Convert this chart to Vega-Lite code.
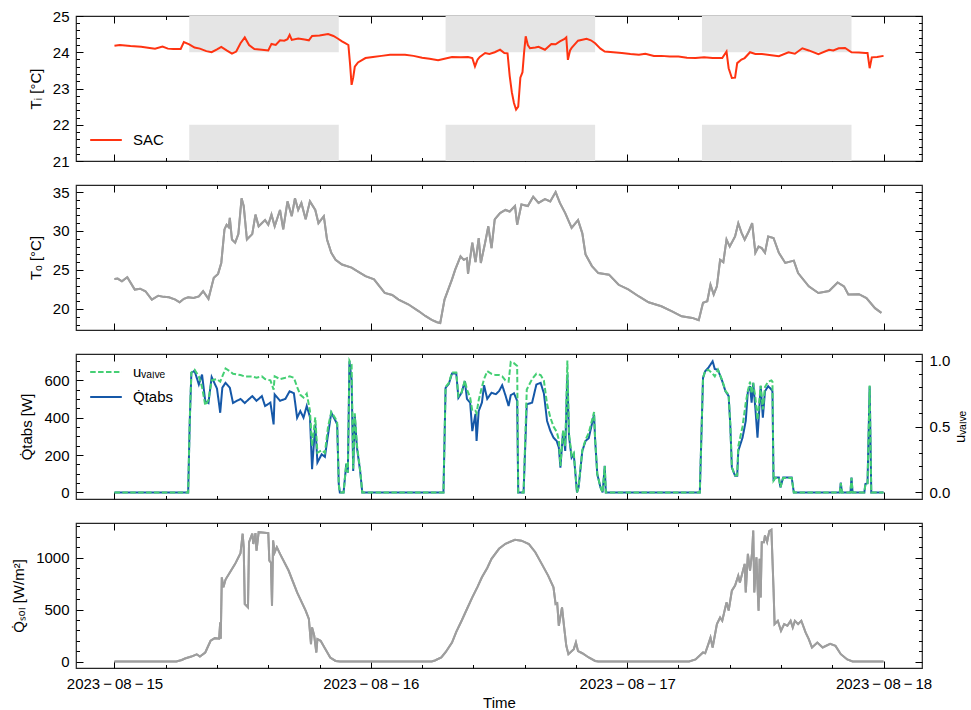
{
  "$schema": "https://vega.github.io/schema/vega-lite/v6.json",
  "padding": {"left": 11, "top": 8, "right": 0, "bottom": 2},
  "bounds": "flush",
  "spacing": 24,
  "config": {
    "font": "Liberation Sans",
    "view": {"stroke": "#262626", "strokeWidth": 1.2},
    "axis": {"grid": false, "domain": false, "tickColor": "#000", "tickWidth": 1, "labelFontSize": 15, "titleFontSize": 15, "titleFontWeight": "normal", "labelColor": "#000", "titleColor": "#000", "labelFlush": false, "labelOverlap": false, "minExtent": 0, "zindex": 1, "labelPadding": 14, "titlePadding": 9},
    "legend": {"symbolType": "stroke", "symbolSize": 1000, "symbolStrokeWidth": 2, "labelFontSize": 15, "labelColor": "#000", "labelOffset": 10, "rowPadding": -7, "padding": 0}
  },
  "resolve": {"scale": {"color": "independent", "strokeDash": "independent"}},
  "vconcat": [
    {
      "width": 846, "height": 145,
      "layer": [
        {
          "data": {"values": [
            {"start": "2023-08-15T07:00Z", "end": "2023-08-15T21:00Z", "lo": 24, "hi": 25},
            {"start": "2023-08-15T07:00Z", "end": "2023-08-15T21:00Z", "lo": 21, "hi": 22},
            {"start": "2023-08-16T07:00Z", "end": "2023-08-16T21:00Z", "lo": 24, "hi": 25},
            {"start": "2023-08-16T07:00Z", "end": "2023-08-16T21:00Z", "lo": 21, "hi": 22},
            {"start": "2023-08-17T07:00Z", "end": "2023-08-17T21:00Z", "lo": 24, "hi": 25},
            {"start": "2023-08-17T07:00Z", "end": "2023-08-17T21:00Z", "lo": 21, "hi": 22}
          ]},
          "mark": {"type": "rect", "color": "#e5e5e5"},
          "encoding": {
            "x": {"field": "start", "type": "temporal", "scale": {"type": "utc", "domain": [1692044640000, 1692329760000], "nice": false},
              "axis": {"orient": "bottom", "values": [1692057600000,1692074880000,1692092160000,1692109440000,1692126720000,1692144000000,1692161280000,1692178560000,1692195840000,1692213120000,1692230400000,1692247680000,1692264960000,1692282240000,1692299520000,1692316800000], "labels": false, "title": null, "tickSize": {"condition": {"test": "utchours(datum.value) == 0", "value": -7}, "value": -3.5}}},
            "x2": {"field": "end"},
            "y": {"field": "lo", "type": "quantitative", "scale": {"domain": [21, 25], "nice": false, "zero": false},
              "axis": {"orient": "left", "values": [21,21.2,21.4,21.6,21.8,22,22.2,22.4,22.6,22.8,23,23.2,23.4,23.6,23.8,24,24.2,24.4,24.6,24.8,25], "format": ".0f", "labelExpr": "datum.value % 1 == 0 ? datum.label : ''", "tickSize": {"condition": {"test": "datum.value % 1 == 0", "value": -7}, "value": -3.5}, "title": "Tᵢ [°C]"}},
            "y2": {"field": "hi"}
          }
        },
        {
          "data": {"values": [
            {"t":"2023-08-15T00:00Z","v":24.18},{"t":"2023-08-15T00:30Z","v":24.2},{"t":"2023-08-15T01:30Z","v":24.17},{"t":"2023-08-15T02:30Z","v":24.15},{"t":"2023-08-15T03:18Z","v":24.12},{"t":"2023-08-15T03:48Z","v":24.1},{"t":"2023-08-15T04:30Z","v":24.16},{"t":"2023-08-15T05:00Z","v":24.1},{"t":"2023-08-15T05:30Z","v":24.09},{"t":"2023-08-15T06:12Z","v":24.09},{"t":"2023-08-15T06:30Z","v":24.28},{"t":"2023-08-15T07:00Z","v":24.22},{"t":"2023-08-15T07:30Z","v":24.13},{"t":"2023-08-15T08:00Z","v":24.1},{"t":"2023-08-15T08:36Z","v":24.03},{"t":"2023-08-15T09:06Z","v":24.0},{"t":"2023-08-15T09:36Z","v":24.08},{"t":"2023-08-15T10:00Z","v":24.15},{"t":"2023-08-15T10:30Z","v":24.05},{"t":"2023-08-15T11:00Z","v":23.96},{"t":"2023-08-15T11:24Z","v":24.02},{"t":"2023-08-15T11:48Z","v":24.25},{"t":"2023-08-15T12:12Z","v":24.41},{"t":"2023-08-15T12:36Z","v":24.2},{"t":"2023-08-15T13:06Z","v":24.09},{"t":"2023-08-15T13:48Z","v":24.07},{"t":"2023-08-15T14:24Z","v":24.05},{"t":"2023-08-15T14:42Z","v":24.23},{"t":"2023-08-15T15:06Z","v":24.2},{"t":"2023-08-15T15:30Z","v":24.33},{"t":"2023-08-15T15:54Z","v":24.32},{"t":"2023-08-15T16:12Z","v":24.36},{"t":"2023-08-15T16:24Z","v":24.48},{"t":"2023-08-15T16:36Z","v":24.34},{"t":"2023-08-15T17:12Z","v":24.38},{"t":"2023-08-15T17:48Z","v":24.35},{"t":"2023-08-15T18:12Z","v":24.33},{"t":"2023-08-15T18:30Z","v":24.45},{"t":"2023-08-15T19:12Z","v":24.46},{"t":"2023-08-15T20:00Z","v":24.5},{"t":"2023-08-15T20:30Z","v":24.45},{"t":"2023-08-15T20:54Z","v":24.38},{"t":"2023-08-15T21:18Z","v":24.3},{"t":"2023-08-15T21:36Z","v":24.25},{"t":"2023-08-15T21:54Z","v":24.2},{"t":"2023-08-15T22:03Z","v":23.7},{"t":"2023-08-15T22:12Z","v":23.1},{"t":"2023-08-15T22:21Z","v":23.3},{"t":"2023-08-15T22:30Z","v":23.6},{"t":"2023-08-15T22:48Z","v":23.72},{"t":"2023-08-15T23:30Z","v":23.84},
            {"t":"2023-08-16T00:12Z","v":23.87},{"t":"2023-08-16T01:00Z","v":23.9},{"t":"2023-08-16T01:48Z","v":23.93},{"t":"2023-08-16T02:36Z","v":23.93},{"t":"2023-08-16T03:12Z","v":23.93},{"t":"2023-08-16T04:00Z","v":23.9},{"t":"2023-08-16T04:48Z","v":23.85},{"t":"2023-08-16T05:30Z","v":23.82},{"t":"2023-08-16T06:18Z","v":23.78},{"t":"2023-08-16T07:00Z","v":23.83},{"t":"2023-08-16T07:36Z","v":23.87},{"t":"2023-08-16T08:24Z","v":23.86},{"t":"2023-08-16T09:06Z","v":23.87},{"t":"2023-08-16T09:30Z","v":23.84},{"t":"2023-08-16T09:45Z","v":23.61},{"t":"2023-08-16T10:00Z","v":23.8},{"t":"2023-08-16T10:12Z","v":23.87},{"t":"2023-08-16T10:42Z","v":23.98},{"t":"2023-08-16T11:06Z","v":23.95},{"t":"2023-08-16T11:36Z","v":24.0},{"t":"2023-08-16T12:06Z","v":24.07},{"t":"2023-08-16T12:30Z","v":23.98},{"t":"2023-08-16T12:48Z","v":23.97},{"t":"2023-08-16T13:00Z","v":23.35},{"t":"2023-08-16T13:12Z","v":22.9},{"t":"2023-08-16T13:24Z","v":22.6},{"t":"2023-08-16T13:36Z","v":22.42},{"t":"2023-08-16T13:48Z","v":22.5},{"t":"2023-08-16T14:00Z","v":23.3},{"t":"2023-08-16T14:12Z","v":23.45},{"t":"2023-08-16T14:21Z","v":24.0},{"t":"2023-08-16T14:30Z","v":24.44},{"t":"2023-08-16T14:42Z","v":24.2},{"t":"2023-08-16T14:54Z","v":24.11},{"t":"2023-08-16T15:24Z","v":24.13},{"t":"2023-08-16T15:42Z","v":24.15},{"t":"2023-08-16T16:18Z","v":24.07},{"t":"2023-08-16T16:54Z","v":24.23},{"t":"2023-08-16T17:18Z","v":24.22},{"t":"2023-08-16T17:42Z","v":24.3},{"t":"2023-08-16T18:06Z","v":24.36},{"t":"2023-08-16T18:18Z","v":24.41},{"t":"2023-08-16T18:27Z","v":23.79},{"t":"2023-08-16T18:39Z","v":24.05},{"t":"2023-08-16T18:48Z","v":24.12},{"t":"2023-08-16T19:24Z","v":24.32},{"t":"2023-08-16T20:12Z","v":24.37},{"t":"2023-08-16T20:36Z","v":24.33},{"t":"2023-08-16T21:00Z","v":24.25},{"t":"2023-08-16T21:30Z","v":24.1},{"t":"2023-08-16T21:54Z","v":24.02},{"t":"2023-08-16T22:42Z","v":24.0},{"t":"2023-08-16T23:30Z","v":23.98},
            {"t":"2023-08-17T00:18Z","v":23.95},{"t":"2023-08-17T01:06Z","v":23.93},{"t":"2023-08-17T01:42Z","v":23.96},{"t":"2023-08-17T02:30Z","v":23.9},{"t":"2023-08-17T03:12Z","v":23.9},{"t":"2023-08-17T04:00Z","v":23.88},{"t":"2023-08-17T04:48Z","v":23.88},{"t":"2023-08-17T05:36Z","v":23.85},{"t":"2023-08-17T06:24Z","v":23.84},{"t":"2023-08-17T07:12Z","v":23.86},{"t":"2023-08-17T08:00Z","v":23.84},{"t":"2023-08-17T08:54Z","v":23.84},{"t":"2023-08-17T09:18Z","v":24.02},{"t":"2023-08-17T09:30Z","v":23.56},{"t":"2023-08-17T09:48Z","v":23.29},{"t":"2023-08-17T10:06Z","v":23.3},{"t":"2023-08-17T10:18Z","v":23.7},{"t":"2023-08-17T10:42Z","v":23.8},{"t":"2023-08-17T11:00Z","v":23.84},{"t":"2023-08-17T11:30Z","v":24.0},{"t":"2023-08-17T12:00Z","v":23.95},{"t":"2023-08-17T12:36Z","v":23.95},{"t":"2023-08-17T13:30Z","v":23.92},{"t":"2023-08-17T14:12Z","v":23.89},{"t":"2023-08-17T15:06Z","v":24.0},{"t":"2023-08-17T15:42Z","v":23.96},{"t":"2023-08-17T16:24Z","v":24.11},{"t":"2023-08-17T17:00Z","v":24.05},{"t":"2023-08-17T17:54Z","v":23.95},{"t":"2023-08-17T18:54Z","v":24.07},{"t":"2023-08-17T19:18Z","v":24.05},{"t":"2023-08-17T19:48Z","v":24.11},{"t":"2023-08-17T20:24Z","v":24.12},{"t":"2023-08-17T21:00Z","v":24.0},{"t":"2023-08-17T21:42Z","v":23.99},{"t":"2023-08-17T22:18Z","v":23.98},{"t":"2023-08-17T22:30Z","v":23.98},{"t":"2023-08-17T22:42Z","v":23.56},{"t":"2023-08-17T22:54Z","v":23.86},{"t":"2023-08-17T23:24Z","v":23.87},{"t":"2023-08-18T00:00Z","v":23.9}
          ]},
          "mark": {"type": "line", "strokeWidth": 2},
          "encoding": {
            "x": {"field": "t", "type": "temporal", "scale": {"type": "utc", "domain": [1692044640000, 1692329760000], "nice": false},
              "axis": {"orient": "top", "values": [1692057600000,1692074880000,1692092160000,1692109440000,1692126720000,1692144000000,1692161280000,1692178560000,1692195840000,1692213120000,1692230400000,1692247680000,1692264960000,1692282240000,1692299520000,1692316800000], "labels": false, "title": null, "tickSize": {"condition": {"test": "utchours(datum.value) == 0", "value": -7}, "value": -3.5}}},
            "y": {"field": "v", "type": "quantitative", "scale": {"domain": [21, 25], "nice": false, "zero": false},
              "axis": {"orient": "right", "values": [21,21.2,21.4,21.6,21.8,22,22.2,22.4,22.6,22.8,23,23.2,23.4,23.6,23.8,24,24.2,24.4,24.6,24.8,25], "labels": false, "title": null, "tickSize": {"condition": {"test": "datum.value % 1 == 0", "value": -7}, "value": -3.5}}},
            "color": {"datum": "SAC", "type": "nominal", "scale": {"domain": ["SAC"], "range": ["#ff3311"]}, "legend": {"title": null, "orient": "none", "legendX": 13, "legendY": 107}}
          }
        }
      ],
      "resolve": {"axis": {"x": "independent", "y": "independent"}}
    },
    {
      "width": 846, "height": 145,
      "data": {"values": [
        {"t":"2023-08-15T00:00Z","v":23.85},{"t":"2023-08-15T00:18Z","v":23.9},{"t":"2023-08-15T00:42Z","v":23.55},{"t":"2023-08-15T01:12Z","v":24.06},{"t":"2023-08-15T01:54Z","v":22.49},{"t":"2023-08-15T02:24Z","v":22.6},{"t":"2023-08-15T02:54Z","v":22.27},{"t":"2023-08-15T03:30Z","v":21.2},{"t":"2023-08-15T04:06Z","v":21.7},{"t":"2023-08-15T04:36Z","v":21.55},{"t":"2023-08-15T05:06Z","v":21.5},{"t":"2023-08-15T05:42Z","v":21.2},{"t":"2023-08-15T06:06Z","v":20.86},{"t":"2023-08-15T06:30Z","v":21.3},{"t":"2023-08-15T06:54Z","v":21.5},{"t":"2023-08-15T07:24Z","v":21.4},{"t":"2023-08-15T07:54Z","v":21.6},{"t":"2023-08-15T08:18Z","v":22.27},{"t":"2023-08-15T08:48Z","v":21.3},{"t":"2023-08-15T09:18Z","v":24.0},{"t":"2023-08-15T09:42Z","v":24.5},{"t":"2023-08-15T10:00Z","v":25.9},{"t":"2023-08-15T10:18Z","v":30.2},{"t":"2023-08-15T10:30Z","v":30.8},{"t":"2023-08-15T10:42Z","v":30.5},{"t":"2023-08-15T10:48Z","v":31.7},{"t":"2023-08-15T11:00Z","v":28.9},{"t":"2023-08-15T11:18Z","v":28.5},{"t":"2023-08-15T11:36Z","v":29.6},{"t":"2023-08-15T11:54Z","v":34.2},{"t":"2023-08-15T12:06Z","v":33.2},{"t":"2023-08-15T12:24Z","v":28.9},{"t":"2023-08-15T12:54Z","v":29.6},{"t":"2023-08-15T13:12Z","v":32.1},{"t":"2023-08-15T13:30Z","v":30.6},{"t":"2023-08-15T14:06Z","v":31.4},{"t":"2023-08-15T14:24Z","v":30.8},{"t":"2023-08-15T14:42Z","v":32.1},{"t":"2023-08-15T15:00Z","v":30.6},{"t":"2023-08-15T15:30Z","v":32.7},{"t":"2023-08-15T15:48Z","v":30.2},{"t":"2023-08-15T16:12Z","v":33.8},{"t":"2023-08-15T16:36Z","v":31.9},{"t":"2023-08-15T16:54Z","v":34.2},{"t":"2023-08-15T17:12Z","v":32.7},{"t":"2023-08-15T17:30Z","v":33.6},{"t":"2023-08-15T17:54Z","v":31.5},{"t":"2023-08-15T18:18Z","v":33.8},{"t":"2023-08-15T18:48Z","v":32.7},{"t":"2023-08-15T19:06Z","v":31.0},{"t":"2023-08-15T19:36Z","v":31.9},{"t":"2023-08-15T19:54Z","v":28.9},{"t":"2023-08-15T20:18Z","v":27.2},{"t":"2023-08-15T20:42Z","v":26.3},{"t":"2023-08-15T21:18Z","v":25.7},{"t":"2023-08-15T22:12Z","v":25.3},{"t":"2023-08-15T22:48Z","v":24.8},{"t":"2023-08-15T23:30Z","v":24.2},
        {"t":"2023-08-16T00:18Z","v":23.8},{"t":"2023-08-16T01:18Z","v":22.05},{"t":"2023-08-16T02:00Z","v":21.8},{"t":"2023-08-16T02:36Z","v":21.2},{"t":"2023-08-16T03:30Z","v":20.6},{"t":"2023-08-16T04:30Z","v":19.7},{"t":"2023-08-16T05:06Z","v":19.1},{"t":"2023-08-16T05:42Z","v":18.6},{"t":"2023-08-16T06:12Z","v":18.3},{"t":"2023-08-16T06:30Z","v":18.2},{"t":"2023-08-16T06:54Z","v":21.2},{"t":"2023-08-16T07:36Z","v":23.8},{"t":"2023-08-16T07:54Z","v":25.05},{"t":"2023-08-16T08:24Z","v":26.75},{"t":"2023-08-16T08:42Z","v":26.3},{"t":"2023-08-16T09:00Z","v":26.5},{"t":"2023-08-16T09:06Z","v":24.5},{"t":"2023-08-16T09:30Z","v":28.5},{"t":"2023-08-16T09:48Z","v":26.0},{"t":"2023-08-16T10:06Z","v":29.1},{"t":"2023-08-16T10:18Z","v":25.9},{"t":"2023-08-16T10:42Z","v":28.5},{"t":"2023-08-16T11:00Z","v":30.6},{"t":"2023-08-16T11:18Z","v":27.8},{"t":"2023-08-16T11:36Z","v":31.5},{"t":"2023-08-16T12:06Z","v":32.3},{"t":"2023-08-16T12:36Z","v":32.7},{"t":"2023-08-16T13:00Z","v":32.5},{"t":"2023-08-16T13:30Z","v":33.2},{"t":"2023-08-16T13:42Z","v":30.8},{"t":"2023-08-16T14:06Z","v":33.4},{"t":"2023-08-16T14:42Z","v":33.2},{"t":"2023-08-16T15:12Z","v":34.4},{"t":"2023-08-16T15:42Z","v":33.6},{"t":"2023-08-16T16:18Z","v":34.1},{"t":"2023-08-16T16:48Z","v":33.8},{"t":"2023-08-16T17:18Z","v":35.0},{"t":"2023-08-16T17:42Z","v":33.6},{"t":"2023-08-16T18:12Z","v":32.3},{"t":"2023-08-16T18:48Z","v":30.4},{"t":"2023-08-16T19:24Z","v":31.4},{"t":"2023-08-16T19:48Z","v":29.7},{"t":"2023-08-16T20:06Z","v":27.0},{"t":"2023-08-16T20:42Z","v":25.5},{"t":"2023-08-16T21:18Z","v":24.6},{"t":"2023-08-16T22:18Z","v":24.4},{"t":"2023-08-16T23:12Z","v":23.1},
        {"t":"2023-08-17T00:06Z","v":22.5},{"t":"2023-08-17T01:06Z","v":21.6},{"t":"2023-08-17T02:00Z","v":20.86},{"t":"2023-08-17T03:12Z","v":20.35},{"t":"2023-08-17T04:12Z","v":19.7},{"t":"2023-08-17T05:06Z","v":19.06},{"t":"2023-08-17T06:06Z","v":18.85},{"t":"2023-08-17T06:42Z","v":18.55},{"t":"2023-08-17T07:06Z","v":20.8},{"t":"2023-08-17T07:30Z","v":21.0},{"t":"2023-08-17T07:48Z","v":23.1},{"t":"2023-08-17T08:06Z","v":21.85},{"t":"2023-08-17T08:24Z","v":22.9},{"t":"2023-08-17T08:42Z","v":26.3},{"t":"2023-08-17T09:00Z","v":26.0},{"t":"2023-08-17T09:18Z","v":28.9},{"t":"2023-08-17T09:36Z","v":28.0},{"t":"2023-08-17T10:06Z","v":29.3},{"t":"2023-08-17T10:24Z","v":31.0},{"t":"2023-08-17T10:42Z","v":29.8},{"t":"2023-08-17T11:00Z","v":28.9},{"t":"2023-08-17T11:24Z","v":30.0},{"t":"2023-08-17T11:42Z","v":31.0},{"t":"2023-08-17T12:00Z","v":27.2},{"t":"2023-08-17T12:18Z","v":28.0},{"t":"2023-08-17T12:36Z","v":27.8},{"t":"2023-08-17T12:54Z","v":27.2},{"t":"2023-08-17T13:12Z","v":29.3},{"t":"2023-08-17T13:42Z","v":29.1},{"t":"2023-08-17T14:12Z","v":27.2},{"t":"2023-08-17T14:48Z","v":25.9},{"t":"2023-08-17T15:36Z","v":26.2},{"t":"2023-08-17T16:00Z","v":24.6},{"t":"2023-08-17T17:00Z","v":22.9},{"t":"2023-08-17T17:54Z","v":22.05},{"t":"2023-08-17T18:54Z","v":22.3},{"t":"2023-08-17T19:42Z","v":23.4},{"t":"2023-08-17T20:18Z","v":22.9},{"t":"2023-08-17T20:42Z","v":21.85},{"t":"2023-08-17T21:42Z","v":21.9},{"t":"2023-08-17T22:24Z","v":21.4},{"t":"2023-08-17T23:12Z","v":20.1},{"t":"2023-08-17T23:48Z","v":19.5}
      ]},
      "layer": [
        {
          "mark": {"type": "line", "strokeWidth": 2, "color": "#9e9e9e"},
          "encoding": {
            "x": {"field": "t", "type": "temporal", "scale": {"type": "utc", "domain": [1692044640000, 1692329760000], "nice": false},
              "axis": {"orient": "bottom", "values": [1692057600000,1692074880000,1692092160000,1692109440000,1692126720000,1692144000000,1692161280000,1692178560000,1692195840000,1692213120000,1692230400000,1692247680000,1692264960000,1692282240000,1692299520000,1692316800000], "labels": false, "title": null, "tickSize": {"condition": {"test": "utchours(datum.value) == 0", "value": -7}, "value": -3.5}}},
            "y": {"field": "v", "type": "quantitative", "scale": {"domain": [17.3, 35.9], "nice": false, "zero": false},
              "axis": {"orient": "left", "values": [18,19,20,21,22,23,24,25,26,27,28,29,30,31,32,33,34,35], "labelExpr": "datum.value % 5 == 0 ? datum.label : ''", "tickSize": {"condition": {"test": "datum.value % 5 == 0", "value": -7}, "value": -3.5}, "title": "Tₒ [°C]"}}
          }
        },
        {
          "mark": {"type": "line", "strokeWidth": 2, "color": "#9e9e9e"},
          "encoding": {
            "x": {"field": "t", "type": "temporal", "scale": {"type": "utc", "domain": [1692044640000, 1692329760000], "nice": false},
              "axis": {"orient": "top", "values": [1692057600000,1692074880000,1692092160000,1692109440000,1692126720000,1692144000000,1692161280000,1692178560000,1692195840000,1692213120000,1692230400000,1692247680000,1692264960000,1692282240000,1692299520000,1692316800000], "labels": false, "title": null, "tickSize": {"condition": {"test": "utchours(datum.value) == 0", "value": -7}, "value": -3.5}}},
            "y": {"field": "v", "type": "quantitative", "scale": {"domain": [17.3, 35.9], "nice": false, "zero": false},
              "axis": {"orient": "right", "values": [18,19,20,21,22,23,24,25,26,27,28,29,30,31,32,33,34,35], "labels": false, "title": null, "tickSize": {"condition": {"test": "datum.value % 5 == 0", "value": -7}, "value": -3.5}}}
          }
        }
      ],
      "resolve": {"axis": {"x": "independent", "y": "independent"}}
    },
    {
      "width": 846, "height": 145,
      "data": {"values": [
        {"t":"2023-08-15T00:00Z","Q":0,"u":0},{"t":"2023-08-15T06:54Z","Q":0,"u":0},{"t":"2023-08-15T07:03Z","Q":380,"u":0.55},{"t":"2023-08-15T07:12Z","Q":639,"u":0.91},{"t":"2023-08-15T07:30Z","Q":650,"u":0.93},{"t":"2023-08-15T07:54Z","Q":577,"u":0.88},{"t":"2023-08-15T08:12Z","Q":630,"u":0.8},{"t":"2023-08-15T08:30Z","Q":488,"u":0.66},{"t":"2023-08-15T08:48Z","Q":478,"u":0.7},{"t":"2023-08-15T09:06Z","Q":617,"u":0.85},{"t":"2023-08-15T09:36Z","Q":555,"u":0.86},{"t":"2023-08-15T09:54Z","Q":426,"u":0.84},{"t":"2023-08-15T10:06Z","Q":560,"u":0.88},{"t":"2023-08-15T10:24Z","Q":586,"u":0.94},{"t":"2023-08-15T10:48Z","Q":560,"u":0.92},{"t":"2023-08-15T11:06Z","Q":478,"u":0.9},{"t":"2023-08-15T11:48Z","Q":500,"u":0.89},{"t":"2023-08-15T12:12Z","Q":478,"u":0.88},{"t":"2023-08-15T12:54Z","Q":515,"u":0.88},{"t":"2023-08-15T13:18Z","Q":490,"u":0.87},{"t":"2023-08-15T13:48Z","Q":515,"u":0.88},{"t":"2023-08-15T14:06Z","Q":462,"u":0.86},{"t":"2023-08-15T14:36Z","Q":480,"u":0.85},{"t":"2023-08-15T14:54Z","Q":364,"u":0.78},{"t":"2023-08-15T15:00Z","Q":524,"u":0.88},{"t":"2023-08-15T15:30Z","Q":490,"u":0.86},{"t":"2023-08-15T16:00Z","Q":500,"u":0.87},{"t":"2023-08-15T16:24Z","Q":541,"u":0.88},{"t":"2023-08-15T16:48Z","Q":530,"u":0.87},{"t":"2023-08-15T17:06Z","Q":399,"u":0.8},{"t":"2023-08-15T17:24Z","Q":435,"u":0.74},{"t":"2023-08-15T17:42Z","Q":400,"u":0.72},{"t":"2023-08-15T18:00Z","Q":462,"u":0.75},{"t":"2023-08-15T18:18Z","Q":404,"u":0.62},{"t":"2023-08-15T18:30Z","Q":124,"u":0.35},{"t":"2023-08-15T18:48Z","Q":364,"u":0.57},{"t":"2023-08-15T19:00Z","Q":160,"u":0.3},{"t":"2023-08-15T19:24Z","Q":204,"u":0.32},{"t":"2023-08-15T19:42Z","Q":190,"u":0.3},{"t":"2023-08-15T20:00Z","Q":311,"u":0.5},{"t":"2023-08-15T20:18Z","Q":426,"u":0.61},{"t":"2023-08-15T20:42Z","Q":382,"u":0.56},{"t":"2023-08-15T20:51Z","Q":364,"u":0.53},{"t":"2023-08-15T21:00Z","Q":45,"u":0.06},{"t":"2023-08-15T21:06Z","Q":0,"u":0},{"t":"2023-08-15T21:27Z","Q":0,"u":0},{"t":"2023-08-15T21:42Z","Q":151,"u":0.22},{"t":"2023-08-15T21:51Z","Q":106,"u":0.15},{"t":"2023-08-15T22:00Z","Q":701,"u":1.0},{"t":"2023-08-15T22:12Z","Q":604,"u":0.97},{"t":"2023-08-15T22:21Z","Q":115,"u":0.18},{"t":"2023-08-15T22:30Z","Q":408,"u":0.6},{"t":"2023-08-15T22:42Z","Q":240,"u":0.36},{"t":"2023-08-15T23:00Z","Q":115,"u":0.17},{"t":"2023-08-15T23:12Z","Q":0,"u":0},
        {"t":"2023-08-16T06:48Z","Q":0,"u":0},{"t":"2023-08-16T07:00Z","Q":559,"u":0.8},{"t":"2023-08-16T07:18Z","Q":580,"u":0.83},{"t":"2023-08-16T07:36Z","Q":636,"u":0.91},{"t":"2023-08-16T08:00Z","Q":636,"u":0.91},{"t":"2023-08-16T08:12Z","Q":506,"u":0.73},{"t":"2023-08-16T08:30Z","Q":533,"u":0.76},{"t":"2023-08-16T08:48Z","Q":595,"u":0.85},{"t":"2023-08-16T09:00Z","Q":500,"u":0.78},{"t":"2023-08-16T09:18Z","Q":480,"u":0.72},{"t":"2023-08-16T09:30Z","Q":328,"u":0.62},{"t":"2023-08-16T09:48Z","Q":420,"u":0.62},{"t":"2023-08-16T09:54Z","Q":275,"u":0.6},{"t":"2023-08-16T10:06Z","Q":435,"u":0.7},{"t":"2023-08-16T10:24Z","Q":480,"u":0.8},{"t":"2023-08-16T10:36Z","Q":573,"u":0.86},{"t":"2023-08-16T10:54Z","Q":500,"u":0.92},{"t":"2023-08-16T11:18Z","Q":533,"u":0.9},{"t":"2023-08-16T11:42Z","Q":525,"u":0.89},{"t":"2023-08-16T12:00Z","Q":541,"u":0.89},{"t":"2023-08-16T12:18Z","Q":573,"u":0.88},{"t":"2023-08-16T12:36Z","Q":520,"u":0.85},{"t":"2023-08-16T12:54Z","Q":462,"u":0.84},{"t":"2023-08-16T13:06Z","Q":520,"u":0.99},{"t":"2023-08-16T13:24Z","Q":530,"u":0.98},{"t":"2023-08-16T13:42Z","Q":490,"u":0.96},{"t":"2023-08-16T13:48Z","Q":0,"u":0},{"t":"2023-08-16T14:18Z","Q":0,"u":0},{"t":"2023-08-16T14:36Z","Q":471,"u":0.78},{"t":"2023-08-16T15:06Z","Q":480,"u":0.86},{"t":"2023-08-16T15:30Z","Q":577,"u":0.9},{"t":"2023-08-16T15:54Z","Q":586,"u":0.89},{"t":"2023-08-16T16:12Z","Q":530,"u":0.85},{"t":"2023-08-16T16:30Z","Q":382,"u":0.67},{"t":"2023-08-16T16:48Z","Q":330,"u":0.57},{"t":"2023-08-16T17:06Z","Q":293,"u":0.5},{"t":"2023-08-16T17:24Z","Q":275,"u":0.46},{"t":"2023-08-16T17:36Z","Q":240,"u":0.4},{"t":"2023-08-16T17:45Z","Q":133,"u":0.2},{"t":"2023-08-16T18:00Z","Q":328,"u":0.47},{"t":"2023-08-16T18:12Z","Q":222,"u":0.35},{"t":"2023-08-16T18:24Z","Q":630,"u":1.0},{"t":"2023-08-16T18:33Z","Q":300,"u":0.45},{"t":"2023-08-16T18:48Z","Q":186,"u":0.28},{"t":"2023-08-16T19:00Z","Q":204,"u":0.3},{"t":"2023-08-16T19:18Z","Q":0,"u":0},{"t":"2023-08-16T19:27Z","Q":27,"u":0.04},{"t":"2023-08-16T19:48Z","Q":222,"u":0.32},{"t":"2023-08-16T20:06Z","Q":275,"u":0.4},{"t":"2023-08-16T20:24Z","Q":290,"u":0.45},{"t":"2023-08-16T20:54Z","Q":417,"u":0.61},{"t":"2023-08-16T21:00Z","Q":280,"u":0.4},{"t":"2023-08-16T21:12Z","Q":98,"u":0.14},{"t":"2023-08-16T21:30Z","Q":27,"u":0.04},{"t":"2023-08-16T21:42Z","Q":0,"u":0},{"t":"2023-08-16T21:54Z","Q":142,"u":0.2},{"t":"2023-08-16T22:00Z","Q":0,"u":0},
        {"t":"2023-08-17T06:48Z","Q":0,"u":0},{"t":"2023-08-17T07:06Z","Q":612,"u":0.87},{"t":"2023-08-17T07:18Z","Q":648,"u":0.92},{"t":"2023-08-17T07:36Z","Q":666,"u":0.93},{"t":"2023-08-17T08:00Z","Q":701,"u":0.9},{"t":"2023-08-17T08:12Z","Q":660,"u":0.88},{"t":"2023-08-17T08:30Z","Q":655,"u":0.93},{"t":"2023-08-17T08:54Z","Q":595,"u":0.85},{"t":"2023-08-17T09:12Z","Q":541,"u":0.77},{"t":"2023-08-17T09:30Z","Q":515,"u":0.74},{"t":"2023-08-17T09:39Z","Q":364,"u":0.52},{"t":"2023-08-17T09:48Z","Q":133,"u":0.19},{"t":"2023-08-17T10:06Z","Q":89,"u":0.13},{"t":"2023-08-17T10:18Z","Q":89,"u":0.13},{"t":"2023-08-17T10:24Z","Q":222,"u":0.35},{"t":"2023-08-17T10:48Z","Q":293,"u":0.5},{"t":"2023-08-17T11:06Z","Q":382,"u":0.68},{"t":"2023-08-17T11:18Z","Q":541,"u":0.77},{"t":"2023-08-17T11:30Z","Q":568,"u":0.84},{"t":"2023-08-17T11:39Z","Q":480,"u":0.75},{"t":"2023-08-17T11:48Z","Q":586,"u":0.83},{"t":"2023-08-17T12:00Z","Q":450,"u":0.72},{"t":"2023-08-17T12:12Z","Q":293,"u":0.55},{"t":"2023-08-17T12:30Z","Q":568,"u":0.81},{"t":"2023-08-17T12:42Z","Q":400,"u":0.63},{"t":"2023-08-17T12:54Z","Q":541,"u":0.8},{"t":"2023-08-17T13:12Z","Q":568,"u":0.84},{"t":"2023-08-17T13:30Z","Q":550,"u":0.85},{"t":"2023-08-17T13:36Z","Q":540,"u":0.84},{"t":"2023-08-17T13:42Z","Q":62,"u":0.09},{"t":"2023-08-17T13:51Z","Q":80,"u":0.11},{"t":"2023-08-17T14:12Z","Q":80,"u":0.11},{"t":"2023-08-17T14:21Z","Q":27,"u":0.04},{"t":"2023-08-17T14:36Z","Q":80,"u":0.11},{"t":"2023-08-17T15:24Z","Q":80,"u":0.11},{"t":"2023-08-17T15:36Z","Q":0,"u":0},{"t":"2023-08-17T19:54Z","Q":0,"u":0},{"t":"2023-08-17T20:00Z","Q":53,"u":0.07},{"t":"2023-08-17T20:06Z","Q":0,"u":0},{"t":"2023-08-17T20:54Z","Q":0,"u":0},{"t":"2023-08-17T21:00Z","Q":80,"u":0.11},{"t":"2023-08-17T21:06Z","Q":0,"u":0},{"t":"2023-08-17T22:12Z","Q":0,"u":0},{"t":"2023-08-17T22:18Z","Q":45,"u":0.06},{"t":"2023-08-17T22:30Z","Q":50,"u":0.06},{"t":"2023-08-17T22:42Z","Q":568,"u":0.81},{"t":"2023-08-17T22:51Z","Q":0,"u":0},{"t":"2023-08-18T00:00Z","Q":0,"u":0}
      ]},
      "layer": [
        {
          "transform": [{"fold": ["Q"], "as": ["series", "v"]}],
          "mark": {"type": "line", "strokeWidth": 2},
          "encoding": {
            "x": {"field": "t", "type": "temporal", "scale": {"type": "utc", "domain": [1692044640000, 1692329760000], "nice": false},
              "axis": {"orient": "bottom", "values": [1692057600000,1692074880000,1692092160000,1692109440000,1692126720000,1692144000000,1692161280000,1692178560000,1692195840000,1692213120000,1692230400000,1692247680000,1692264960000,1692282240000,1692299520000,1692316800000], "labels": false, "title": null, "tickSize": {"condition": {"test": "utchours(datum.value) == 0", "value": -7}, "value": -3.5}}},
            "y": {"field": "v", "type": "quantitative", "scale": {"domain": [-35, 740], "nice": false, "zero": false},
              "axis": {"orient": "left", "values": [0,50,100,150,200,250,300,350,400,450,500,550,600,650,700], "labelExpr": "datum.value % 200 == 0 ? datum.label : ''", "tickSize": {"condition": {"test": "datum.value % 200 == 0", "value": -7}, "value": -3.5}, "title": "Q̇tabs [W]"}},
            "color": {"field": "series", "type": "nominal", "scale": {"domain": ["u", "Q"], "range": ["#45cf74", "#1558a8"]}, "legend": {"title": null, "orient": "none", "legendX": 13, "legendY": 1, "labelExpr": "datum.label == 'u' ? 'uᵥₐₗᵥₑ' : 'Q̇tabs'"}},
            "strokeDash": {"field": "series", "type": "nominal", "scale": {"domain": ["u", "Q"], "range": [[5.5, 2.4], [1, 0]]}, "legend": {"title": null, "orient": "none", "legendX": 13, "legendY": 1, "labelExpr": "datum.label == 'u' ? 'uᵥₐₗᵥₑ' : 'Q̇tabs'"}}
          }
        },
        {
          "transform": [{"fold": ["u"], "as": ["series", "v"]}],
          "mark": {"type": "line", "strokeWidth": 2},
          "encoding": {
            "x": {"field": "t", "type": "temporal", "scale": {"type": "utc", "domain": [1692044640000, 1692329760000], "nice": false},
              "axis": {"orient": "top", "values": [1692057600000,1692074880000,1692092160000,1692109440000,1692126720000,1692144000000,1692161280000,1692178560000,1692195840000,1692213120000,1692230400000,1692247680000,1692264960000,1692282240000,1692299520000,1692316800000], "labels": false, "title": null, "tickSize": {"condition": {"test": "utchours(datum.value) == 0", "value": -7}, "value": -3.5}}},
            "y": {"field": "v", "type": "quantitative", "scale": {"domain": [-0.05, 1.05], "nice": false, "zero": false},
              "axis": {"orient": "right", "values": [0,0.1,0.2,0.3,0.4,0.5,0.6,0.7,0.8,0.9,1], "format": ".1f", "labelExpr": "(datum.value == 0 || datum.value == 0.5 || datum.value == 1) ? datum.label : ''", "tickSize": {"condition": {"test": "datum.value == 0 || datum.value == 0.5 || datum.value == 1", "value": -7}, "value": -3.5}, "title": "uᵥₐₗᵥₑ", "titleAngle": 270, "titleBaseline": "top", "titlePadding": 3}},
            "color": {"field": "series", "type": "nominal", "scale": {"domain": ["u", "Q"], "range": ["#45cf74", "#1558a8"]}, "legend": {"title": null, "orient": "none", "legendX": 13, "legendY": 1, "labelExpr": "datum.label == 'u' ? 'uᵥₐₗᵥₑ' : 'Q̇tabs'"}},
            "strokeDash": {"field": "series", "type": "nominal", "scale": {"domain": ["u", "Q"], "range": [[5.5, 2.4], [1, 0]]}, "legend": {"title": null, "orient": "none", "legendX": 13, "legendY": 1, "labelExpr": "datum.label == 'u' ? 'uᵥₐₗᵥₑ' : 'Q̇tabs'"}}
          }
        }
      ],
      "resolve": {"scale": {"y": "independent"}, "axis": {"x": "independent", "y": "independent"}}
    },
    {
      "width": 846, "height": 145,
      "data": {"values": [
        {"t":"2023-08-15T00:00Z","v":0},{"t":"2023-08-15T05:48Z","v":0},{"t":"2023-08-15T06:18Z","v":15},{"t":"2023-08-15T06:36Z","v":29},{"t":"2023-08-15T07:12Z","v":48},{"t":"2023-08-15T07:42Z","v":70},{"t":"2023-08-15T08:00Z","v":48},{"t":"2023-08-15T08:30Z","v":87},{"t":"2023-08-15T09:00Z","v":200},{"t":"2023-08-15T09:24Z","v":225},{"t":"2023-08-15T09:48Z","v":220},{"t":"2023-08-15T09:54Z","v":376},{"t":"2023-08-15T09:57Z","v":220},{"t":"2023-08-15T10:03Z","v":810},{"t":"2023-08-15T10:12Z","v":714},{"t":"2023-08-15T10:24Z","v":788},{"t":"2023-08-15T11:18Z","v":939},{"t":"2023-08-15T11:48Z","v":1042},{"t":"2023-08-15T11:54Z","v":1132},{"t":"2023-08-15T12:00Z","v":1229},{"t":"2023-08-15T12:06Z","v":1100},{"t":"2023-08-15T12:12Z","v":553},{"t":"2023-08-15T12:30Z","v":521},{"t":"2023-08-15T12:36Z","v":1148},{"t":"2023-08-15T12:54Z","v":1229},{"t":"2023-08-15T13:00Z","v":1130},{"t":"2023-08-15T13:12Z","v":1235},{"t":"2023-08-15T13:18Z","v":1067},{"t":"2023-08-15T13:30Z","v":1244},{"t":"2023-08-15T14:24Z","v":1235},{"t":"2023-08-15T14:30Z","v":971},{"t":"2023-08-15T14:39Z","v":950},{"t":"2023-08-15T14:45Z","v":537},{"t":"2023-08-15T14:51Z","v":1164},{"t":"2023-08-15T15:00Z","v":1050},{"t":"2023-08-15T15:12Z","v":1100},{"t":"2023-08-15T15:30Z","v":1035},{"t":"2023-08-15T16:18Z","v":875},{"t":"2023-08-15T17:06Z","v":665},{"t":"2023-08-15T17:54Z","v":489},{"t":"2023-08-15T18:12Z","v":409},{"t":"2023-08-15T18:24Z","v":168},{"t":"2023-08-15T18:30Z","v":328},{"t":"2023-08-15T18:42Z","v":250},{"t":"2023-08-15T18:54Z","v":87},{"t":"2023-08-15T19:00Z","v":216},{"t":"2023-08-15T19:18Z","v":200},{"t":"2023-08-15T19:42Z","v":129},{"t":"2023-08-15T20:12Z","v":39},{"t":"2023-08-15T20:42Z","v":6},{"t":"2023-08-15T21:06Z","v":0},
        {"t":"2023-08-16T05:42Z","v":0},{"t":"2023-08-16T06:00Z","v":10},{"t":"2023-08-16T06:36Z","v":39},{"t":"2023-08-16T07:00Z","v":90},{"t":"2023-08-16T07:36Z","v":183},{"t":"2023-08-16T08:00Z","v":285},{"t":"2023-08-16T08:30Z","v":392},{"t":"2023-08-16T09:00Z","v":505},{"t":"2023-08-16T09:30Z","v":617},{"t":"2023-08-16T10:00Z","v":720},{"t":"2023-08-16T10:24Z","v":810},{"t":"2023-08-16T10:54Z","v":900},{"t":"2023-08-16T11:18Z","v":987},{"t":"2023-08-16T12:00Z","v":1084},{"t":"2023-08-16T12:36Z","v":1132},{"t":"2023-08-16T13:30Z","v":1171},{"t":"2023-08-16T14:06Z","v":1162},{"t":"2023-08-16T14:48Z","v":1130},{"t":"2023-08-16T15:24Z","v":1051},{"t":"2023-08-16T16:00Z","v":939},{"t":"2023-08-16T16:36Z","v":826},{"t":"2023-08-16T17:06Z","v":714},{"t":"2023-08-16T17:18Z","v":553},{"t":"2023-08-16T17:27Z","v":560},{"t":"2023-08-16T17:36Z","v":344},{"t":"2023-08-16T17:54Z","v":521},{"t":"2023-08-16T18:06Z","v":328},{"t":"2023-08-16T18:18Z","v":151},{"t":"2023-08-16T18:30Z","v":71},{"t":"2023-08-16T19:00Z","v":119},{"t":"2023-08-16T19:12Z","v":183},{"t":"2023-08-16T19:24Z","v":100},{"t":"2023-08-16T19:48Z","v":80},{"t":"2023-08-16T20:24Z","v":39},{"t":"2023-08-16T21:00Z","v":6},{"t":"2023-08-16T21:18Z","v":0},
        {"t":"2023-08-17T05:48Z","v":0},{"t":"2023-08-17T06:24Z","v":20},{"t":"2023-08-17T07:06Z","v":87},{"t":"2023-08-17T07:18Z","v":80},{"t":"2023-08-17T07:36Z","v":168},{"t":"2023-08-17T07:48Z","v":231},{"t":"2023-08-17T08:00Z","v":135},{"t":"2023-08-17T08:24Z","v":360},{"t":"2023-08-17T08:42Z","v":424},{"t":"2023-08-17T08:54Z","v":392},{"t":"2023-08-17T09:18Z","v":569},{"t":"2023-08-17T09:30Z","v":490},{"t":"2023-08-17T09:48Z","v":682},{"t":"2023-08-17T10:06Z","v":730},{"t":"2023-08-17T10:24Z","v":826},{"t":"2023-08-17T10:33Z","v":760},{"t":"2023-08-17T10:48Z","v":858},{"t":"2023-08-17T11:00Z","v":939},{"t":"2023-08-17T11:06Z","v":665},{"t":"2023-08-17T11:18Z","v":1036},{"t":"2023-08-17T11:30Z","v":875},{"t":"2023-08-17T11:42Z","v":1051},{"t":"2023-08-17T11:48Z","v":1260},{"t":"2023-08-17T11:54Z","v":665},{"t":"2023-08-17T12:06Z","v":1003},{"t":"2023-08-17T12:18Z","v":489},{"t":"2023-08-17T12:24Z","v":987},{"t":"2023-08-17T12:30Z","v":617},{"t":"2023-08-17T12:36Z","v":1148},{"t":"2023-08-17T12:48Z","v":1148},{"t":"2023-08-17T12:54Z","v":1212},{"t":"2023-08-17T13:06Z","v":1150},{"t":"2023-08-17T13:18Z","v":1254},{"t":"2023-08-17T13:30Z","v":1267},{"t":"2023-08-17T13:42Z","v":700},{"t":"2023-08-17T13:48Z","v":360},{"t":"2023-08-17T14:06Z","v":392},{"t":"2023-08-17T14:24Z","v":296},{"t":"2023-08-17T14:42Z","v":360},{"t":"2023-08-17T15:00Z","v":344},{"t":"2023-08-17T15:18Z","v":392},{"t":"2023-08-17T15:30Z","v":328},{"t":"2023-08-17T15:42Z","v":392},{"t":"2023-08-17T16:00Z","v":360},{"t":"2023-08-17T16:18Z","v":392},{"t":"2023-08-17T16:42Z","v":280},{"t":"2023-08-17T17:00Z","v":216},{"t":"2023-08-17T17:18Z","v":135},{"t":"2023-08-17T17:48Z","v":183},{"t":"2023-08-17T18:18Z","v":135},{"t":"2023-08-17T19:00Z","v":170},{"t":"2023-08-17T19:30Z","v":151},{"t":"2023-08-17T20:00Z","v":71},{"t":"2023-08-17T20:36Z","v":20},{"t":"2023-08-17T21:06Z","v":0},{"t":"2023-08-18T00:00Z","v":0}
      ]},
      "layer": [
        {
          "mark": {"type": "line", "strokeWidth": 2, "color": "#9e9e9e"},
          "encoding": {
            "x": {"field": "t", "type": "temporal", "scale": {"type": "utc", "domain": [1692044640000, 1692329760000], "nice": false},
              "axis": {"orient": "bottom", "values": [1692057600000,1692074880000,1692092160000,1692109440000,1692126720000,1692144000000,1692161280000,1692178560000,1692195840000,1692213120000,1692230400000,1692247680000,1692264960000,1692282240000,1692299520000,1692316800000], "labelExpr": "utchours(datum.value) == 0 ? utcFormat(datum.value, '%Y\u2009−\u2009%m\u2009−\u2009%d') : ''", "labelPadding": 15, "title": "Time", "titlePadding": 1, "tickSize": {"condition": {"test": "utchours(datum.value) == 0", "value": -7}, "value": -3.5}}},
            "y": {"field": "v", "type": "quantitative", "scale": {"domain": [-62, 1332], "nice": false, "zero": false},
              "axis": {"orient": "left", "values": [0,100,200,300,400,500,600,700,800,900,1000,1100,1200,1300], "format": "d", "labelExpr": "datum.value % 500 == 0 ? datum.label : ''", "tickSize": {"condition": {"test": "datum.value % 500 == 0", "value": -7}, "value": -3.5}, "title": "Q̇ₛₒₗ [W/m²]"}}
          }
        },
        {
          "mark": {"type": "line", "strokeWidth": 2, "color": "#9e9e9e"},
          "encoding": {
            "x": {"field": "t", "type": "temporal", "scale": {"type": "utc", "domain": [1692044640000, 1692329760000], "nice": false},
              "axis": {"orient": "top", "values": [1692057600000,1692074880000,1692092160000,1692109440000,1692126720000,1692144000000,1692161280000,1692178560000,1692195840000,1692213120000,1692230400000,1692247680000,1692264960000,1692282240000,1692299520000,1692316800000], "labels": false, "title": null, "tickSize": {"condition": {"test": "utchours(datum.value) == 0", "value": -7}, "value": -3.5}}},
            "y": {"field": "v", "type": "quantitative", "scale": {"domain": [-62, 1332], "nice": false, "zero": false},
              "axis": {"orient": "right", "values": [0,100,200,300,400,500,600,700,800,900,1000,1100,1200,1300], "labels": false, "title": null, "tickSize": {"condition": {"test": "datum.value % 500 == 0", "value": -7}, "value": -3.5}}}
          }
        }
      ],
      "resolve": {"axis": {"x": "independent", "y": "independent"}}
    }
  ]
}
